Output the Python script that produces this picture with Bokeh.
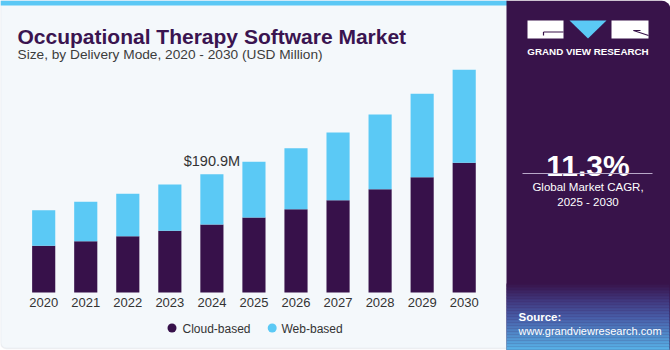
from bokeh.plotting import figure
from bokeh.models import Range1d, BoxAnnotation, ColumnDataSource
from bokeh.core.properties import value
from bokeh.embed import file_html
from bokeh.resources import INLINE

# ---------------- data ----------------
years = [2020, 2021, 2022, 2023, 2024, 2025, 2026, 2027, 2028, 2029, 2030]
year_labels = [str(y) for y in years]
cloud_based = [75.4, 82.8, 90.9, 99.6, 109.7, 121.0, 134.4, 149.0, 166.7, 186.1, 209.3]
web_based = [57.4, 63.6, 68.4, 74.7, 81.2, 89.9, 98.5, 109.2, 120.5, 134.5, 150.1]
series_names = ["Cloud-based", "Web-based"]
highlight_year = 2024
cagr_text = "11.3%"
cagr_label = ["Global Market CAGR,", "2025 - 2030"]
title = "Occupational Therapy Software Market"
subtitle = "Size, by Delivery Mode, 2020 - 2030 (USD Million)"

# ---------------- style ----------------
FONT = value("Liberation Sans")
C_CLOUD = "#37114a"
C_WEB = "#5bc9f5"
C_DARK = "#38134a"
C_TEXT = "#333333"
W, H = 670, 350

totals = [c + w for c, w in zip(cloud_based, web_based)]

p = figure(width=W, height=H, x_range=Range1d(0, W), y_range=Range1d(H, 0),
           x_axis_type=None, y_axis_type=None, toolbar_location=None,
           output_backend="svg", min_border=0, outline_line_color=None)
p.background_fill_color = "white"
p.border_fill_color = "white"
p.xgrid.visible = False
p.ygrid.visible = False

# scales for the bar chart (mapped on the whole canvas)
px_per_year = 42.05
yr_start = years[0] - 43.2 / px_per_year
p.extra_x_ranges = {"yr": Range1d(yr_start, yr_start + W / px_per_year)}
val_per_px = 1.6137
p.extra_y_ranges = {"val": Range1d(-58 * val_per_px, (H - 58) * val_per_px)}

# ---------------- backgrounds ----------------
p.add_layout(BoxAnnotation(left=0, right=507, top=0, bottom=348, fill_color="#f4f8fb",
                           fill_alpha=1, line_color="#cdd2d6", line_width=1.5,
                           border_radius=(0, 0, 0, 6), level="underlay"))
p.add_layout(BoxAnnotation(left=0, right=507, top=0, bottom=5, fill_color="#5bc8f5",
                           fill_alpha=1, line_color=None, level="underlay"))
p.add_layout(BoxAnnotation(left=506, right=W, top=0, bottom=H, fill_color=C_DARK,
                           fill_alpha=1, line_color=None, border_radius=(0, 9, 3, 0),
                           level="underlay"))

# gradient at bottom-right
stops = [(283, (56, 19, 74)), (300, (64, 55, 125)), (318, (72, 95, 170)), (350, (88, 180, 232))]
g_top, g_bot, g_col = [], [], []
y0 = 283
step = 1.5
while y0 < H:
    y1 = min(y0 + step, H)
    ym = (y0 + y1) / 2
    for (a, ca), (b, cb) in zip(stops[:-1], stops[1:]):
        if a <= ym <= b:
            t = (ym - a) / (b - a)
            c = tuple(int(round(ca[i] + (cb[i] - ca[i]) * t)) for i in range(3))
            break
    g_top.append(y0)
    g_bot.append(y1 + 0.3)
    g_col.append("#%02x%02x%02x" % c)
    y0 = y1
p.quad(left=[506] * len(g_top), right=[W - 1] * len(g_top), top=g_top, bottom=g_bot,
       color=g_col, line_color=None)

# ---------------- bars ----------------
src = ColumnDataSource(dict(year=years, cloud=cloud_based, web=web_based))
p.vbar_stack(["cloud", "web"], x="year", width=0.55, color=[C_CLOUD, C_WEB],
             line_color=None, source=src, x_range_name="yr", y_range_name="val")

# x tick labels
p.text(x=years, y=[302] * len(years), text=year_labels, x_range_name="yr",
       text_font=FONT, text_font_size="13px", text_color=C_TEXT,
       text_align="center", text_baseline="middle")

# highlight label
hi = years.index(highlight_year)
p.text(x=[highlight_year], y=[totals[hi] + 22], text=["$%.1fM" % totals[hi]],
       x_range_name="yr", y_range_name="val", text_font=FONT, text_font_size="14.5px",
       text_color=C_TEXT, text_align="center", text_baseline="alphabetic")

# titles
p.text(x=[17], y=[36], text=[title], text_font=FONT, text_font_style="bold",
       text_font_size="21px", text_color="#3a1450", text_align="left",
       text_baseline="alphabetic")
p.text(x=[17], y=[54], text=[subtitle], text_font=FONT, text_font_size="13.7px",
       text_color="#3c3c3c", text_align="left", text_baseline="alphabetic")

# legend
p.scatter(x=[171.5, 271.7], y=[327.5, 327.5], size=9, marker="circle",
          color=[C_CLOUD, C_WEB], line_color=None)
p.text(x=[182, 281], y=[328, 328], text=series_names, text_font=FONT,
       text_font_size="12px", text_color=C_TEXT, text_align="left",
       text_baseline="middle")

# ---------------- right panel ----------------
# logo
p.quad(left=[527, 611], right=[563, 648], top=[20, 20], bottom=[38, 38],
       color="white", line_color=None)
p.patch(x=[569, 606, 587.5], y=[20, 20, 38], color=C_WEB, line_color=None)
p.segment(x0=[543, 543, 633, 633], y0=[31.5, 31.5, 30, 30], x1=[563, 543, 648, 640],
          y1=[31.5, 35, 35, 30], line_color=C_DARK, line_width=1.2)
p.text(x=[587.5], y=[50.5], text=["GRAND VIEW RESEARCH"], text_font=FONT,
       text_font_style="bold", text_font_size="9.8px", text_color="white",
       text_align="center", text_baseline="middle")

p.text(x=[587.5], y=[165], text=[cagr_text], text_font=FONT, text_font_style="bold",
       text_font_size="30px", text_color="white", text_align="center",
       text_baseline="alphabetic")
p.segment(x0=[522], y0=[173], x1=[652], y1=[173], line_color="#b8a8c8", line_width=1)
p.text(x=[587.5, 587.5], y=[186, 201], text=cagr_label, text_font=FONT,
       text_font_size="11.5px", text_color="white", text_align="center",
       text_baseline="middle")

p.text(x=[518], y=[316], text=["Source:"], text_font=FONT, text_font_style="bold",
       text_font_size="11.5px", text_color="white", text_align="left",
       text_baseline="middle")
p.text(x=[518], y=[330], text=["www.grandviewresearch.com"], text_font=FONT,
       text_font_size="11px", text_color="white", text_align="left",
       text_baseline="middle")

open("out.html", "w").write(file_html(p, INLINE))
